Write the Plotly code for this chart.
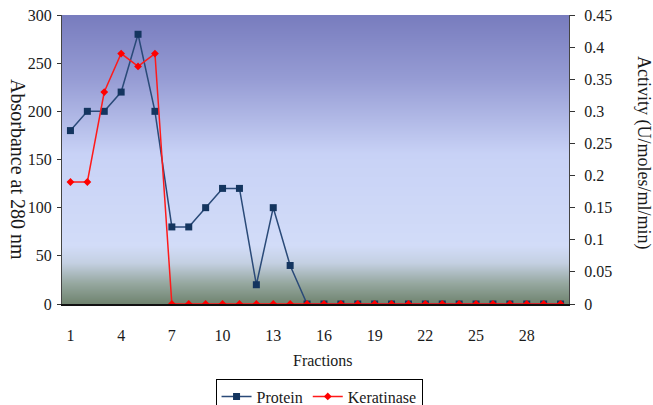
import base64, struct, zlib
import plotly.graph_objects as go

# ---------------- data ----------------
fractions = list(range(1, 31))
protein = [180, 200, 200, 220, 280, 200, 80, 80, 100, 120, 120, 20, 100, 40,
           0, 0, 0, 0, 0, 0, 0, 0, 0, 0, 0, 0, 0, 0, 0, 0]
keratinase = [0.19, 0.19, 0.33, 0.39, 0.37, 0.39, 0, 0, 0, 0, 0, 0, 0, 0, 0,
              0, 0, 0, 0, 0, 0, 0, 0, 0, 0, 0, 0, 0, 0, 0]
x_tick_vals = [1, 4, 7, 10, 13, 16, 19, 22, 25, 28]
x_tick_text = [str(v) for v in x_tick_vals]
boundaries = [f - 0.5 for f in fractions] + [fractions[-1] + 0.5]

FONT = '"Liberation Serif", "Times New Roman", Times, serif'
TXT = "#1a1a1a"

# ---------------- gradient background (1px wide PNG) ----------------
stops = [(0.00, (120, 124, 190)), (0.22, (150, 156, 212)), (0.48, (200, 210, 246)),
         (0.80, (210, 220, 248)), (0.86, (196, 208, 226)), (0.93, (150, 168, 160)),
         (1.00, (112, 132, 112))]
H = 290
rows = []
for i in range(H):
    t = i / (H - 1)
    for (t0, c0), (t1, c1) in zip(stops[:-1], stops[1:]):
        if t0 <= t <= t1:
            f = (t - t0) / (t1 - t0) if t1 > t0 else 0
            rows.append(bytes(int(round(a + (b - a) * f)) for a, b in zip(c0, c1)))
            break
raw = b"".join(b"\x00" + r for r in rows)


def chunk(tag, data):
    return struct.pack(">I", len(data)) + tag + data + struct.pack(">I", zlib.crc32(tag + data) & 0xffffffff)


png = (b"\x89PNG\r\n\x1a\n" + chunk(b"IHDR", struct.pack(">IIBBBBB", 1, H, 8, 2, 0, 0, 0))
       + chunk(b"IDAT", zlib.compress(raw)) + chunk(b"IEND", b""))
bg_src = "data:image/png;base64," + base64.b64encode(png).decode()

# ---------------- figure ----------------
fig = go.Figure()
fig.add_trace(go.Scatter(
    x=fractions, y=protein, name="Protein", mode="lines+markers",
    line=dict(color="#2a4a78", width=1.5),
    marker=dict(symbol="square", size=7, color="#14355f"),
    xaxis="x", yaxis="y"))
fig.add_trace(go.Scatter(
    x=fractions, y=keratinase, name="Keratinase", mode="lines+markers",
    line=dict(color="#ff1a1a", width=1.5),
    marker=dict(symbol="diamond", size=6, color="#ff0000"),
    xaxis="x", yaxis="y2"))

axis_common = dict(showgrid=False, zeroline=False, tickfont=dict(family=FONT, size=16, color=TXT))

fig.update_layout(
    width=653, height=405,
    margin=dict(l=62, r=84, t=15, b=101, autoexpand=False),
    paper_bgcolor="white", plot_bgcolor="rgba(0,0,0,0)",
    font=dict(family=FONT, size=16, color=TXT),
    showlegend=True,
    legend=dict(orientation="h", x=0.507, xanchor="center", y=-0.258, yanchor="top",
                bordercolor="black", borderwidth=1, bgcolor="white",
                font=dict(family=FONT, size=16, color=TXT),
                itemwidth=30, tracegroupgap=0),
    xaxis=dict(axis_common, range=[0.5, 30.5], tickmode="array", tickvals=x_tick_vals,
               ticktext=x_tick_text, ticks="", showline=True, linecolor="#111111",
               linewidth=1.5, ticklabelstandoff=16),
    xaxis2=dict(range=[0.5, 30.5], overlaying="x", anchor="y", side="bottom",
                tickmode="array", tickvals=boundaries, ticks="inside", ticklen=6,
                tickcolor="#222222", showticklabels=False, showgrid=False, zeroline=False,
                showline=False),
    xaxis3=dict(range=[0.5, 30.5], overlaying="x", anchor="y", side="bottom",
                tickmode="array", tickvals=boundaries, ticks="outside", ticklen=6,
                tickcolor="#222222", showticklabels=False, showgrid=False, zeroline=False,
                showline=False),
    yaxis=dict(axis_common, range=[0, 300], dtick=50, ticks="outside", ticklen=4,
               tickcolor="#333333", showline=True, linecolor="#444444", linewidth=1.2,
               ticklabelstandoff=2),
    yaxis2=dict(axis_common, range=[0, 0.45], dtick=0.05, overlaying="y", side="right",
                anchor="x", ticks="outside", ticklen=5, tickcolor="#333333",
                showline=True, linecolor="#444444", linewidth=1.2, ticklabelstandoff=6),
    yaxis3=dict(range=[0, 300], dtick=50, overlaying="y", side="left", anchor="x",
                ticks="inside", ticklen=5, tickcolor="#333333", showticklabels=False,
                showgrid=False, zeroline=False, showline=False),
    yaxis4=dict(range=[0, 0.45], dtick=0.05, overlaying="y", side="right", anchor="x",
                ticks="inside", ticklen=5, tickcolor="#333333", showticklabels=False,
                showgrid=False, zeroline=False, showline=False),
    images=[dict(source=bg_src, xref="paper", yref="paper", x=0, y=1, sizex=1, sizey=1,
                 xanchor="left", yanchor="top", sizing="stretch", layer="below")],
    annotations=[
        dict(text="Absorbance at 280 nm", textangle=90, xref="paper", yref="paper",
             x=-0.087, y=0.464, xanchor="center", yanchor="middle", showarrow=False,
             font=dict(family=FONT, size=20, color=TXT)),
        dict(text="Activity (U/moles/ml/min)", textangle=90, xref="paper", yref="paper",
             x=1.146, y=0.526, xanchor="center", yanchor="middle", showarrow=False,
             font=dict(family=FONT, size=18, color=TXT)),
        dict(text="Fractions", xref="paper", yref="paper", x=0.515, y=-0.194,
             xanchor="center", yanchor="middle", showarrow=False,
             font=dict(family=FONT, size=16, color=TXT)),
    ],
)

fig.write_html("out.html")
